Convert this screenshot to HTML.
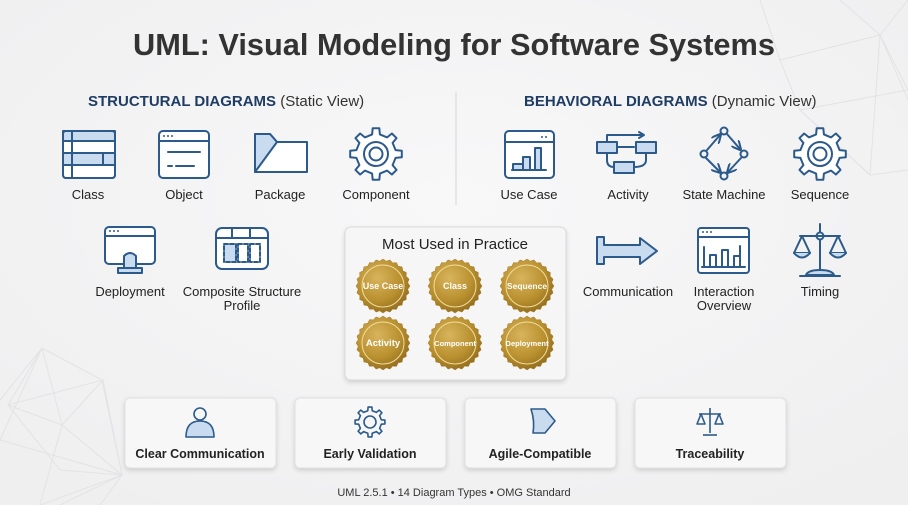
<!DOCTYPE html>
<html><head><meta charset="utf-8"><style>
html,body{margin:0;padding:0;width:908px;height:505px;overflow:hidden;background:#f4f4f5}
svg{display:block}
text{font-family:"Liberation Sans",sans-serif}
</style></head><body>
<svg id="s" width="908" height="505" viewBox="0 0 908 505" xmlns="http://www.w3.org/2000/svg">
<defs>
<radialGradient id="bg" cx="50%" cy="40%" r="70%"><stop offset="0" stop-color="#f8f8f9"/><stop offset="1" stop-color="#efeff0"/></radialGradient>
<radialGradient id="gold" cx="40%" cy="35%" r="70%"><stop offset="0" stop-color="#d8b45c"/><stop offset="0.6" stop-color="#b9902f"/><stop offset="1" stop-color="#8f6a1c"/></radialGradient>
<filter id="sh" x="-10%" y="-10%" width="120%" height="130%"><feDropShadow dx="0" dy="2" stdDeviation="2.5" flood-color="#000" flood-opacity="0.15"/></filter>
<marker id="ar" viewBox="0 0 10 10" refX="8" refY="5" markerWidth="5" markerHeight="5" orient="auto"><path d="M0 0 L10 5 L0 10" fill="none" stroke="#2c5a8a" stroke-width="2"/></marker>
</defs>
<rect width="908" height="505" fill="url(#bg)"/>
<g stroke="#e3e3e5" stroke-width="1" fill="none">
<polyline points="0,400 42,348 102,380 122,475 60,505"/>
<polyline points="42,348 8,405 60,470 122,475 103,380"/>
<polyline points="42,348 62,425 122,475 0,440 42,348"/>
<polyline points="8,405 62,425 103,380 8,405"/>
<polyline points="62,425 40,505 122,475 100,505"/>
<polyline points="760,0 780,60 880,35 908,0"/>
<polyline points="780,60 800,110 908,90 880,35 840,0"/>
<polyline points="800,110 870,175 908,170"/>
<polyline points="880,35 870,175 800,110"/>
<polyline points="880,35 908,100"/>
</g>
<text x="454" y="55" text-anchor="middle" font-size="31" font-weight="bold" fill="#333" textLength="642" lengthAdjust="spacingAndGlyphs">UML: Visual Modeling for Software Systems</text>
<text x="88" y="106" font-size="15" fill="#1f3d63"><tspan font-weight="bold">STRUCTURAL DIAGRAMS</tspan><tspan fill="#333"> (Static View)</tspan></text>
<text x="524" y="106" font-size="15" fill="#1f3d63"><tspan font-weight="bold">BEHAVIORAL DIAGRAMS</tspan><tspan fill="#333"> (Dynamic View)</tspan></text>
<line x1="456" y1="92" x2="456" y2="205" stroke="#d6d6d8" stroke-width="1"/>

<g font-size="13" fill="#222" text-anchor="middle">
<text x="88" y="199">Class</text><text x="184" y="199">Object</text><text x="280" y="199">Package</text><text x="376" y="199">Component</text>
<text x="529" y="199">Use Case</text><text x="628" y="199">Activity</text><text x="724" y="199">State Machine</text><text x="820" y="199">Sequence</text>
<text x="130" y="296">Deployment</text><text x="242" y="296">Composite Structure</text><text x="242" y="310">Profile</text>
<text x="628" y="296">Communication</text><text x="724" y="296">Interaction</text><text x="724" y="310">Overview</text><text x="820" y="296">Timing</text>
</g>

<g stroke="#2c5a8a" stroke-width="2" fill="none" stroke-linejoin="round" stroke-linecap="round">
<rect x="63" y="131" width="52" height="47" rx="3" fill="#fff"/>
<rect x="63" y="131" width="52" height="10" fill="#c9dcef"/>
<rect x="63" y="153" width="52" height="12" fill="#c9dcef"/>
<line x1="63" y1="141" x2="115" y2="141"/><line x1="63" y1="153" x2="115" y2="153"/><line x1="63" y1="165" x2="115" y2="165"/>
<line x1="72" y1="131" x2="72" y2="178"/><line x1="103" y1="153" x2="103" y2="165"/>
<rect x="63" y="131" width="52" height="47" rx="3"/>
<rect x="159" y="131" width="50" height="47" rx="4" fill="#fff"/>
<line x1="159" y1="141" x2="209" y2="141"/>
<line x1="168" y1="152" x2="200" y2="152"/><line x1="168" y1="166" x2="172" y2="166"/><line x1="176" y1="166" x2="194" y2="166"/>
<polygon points="255,134 270,134 277,142 307,142 307,172 255,172" fill="#fff"/>
<polygon points="255,134 270,134 277,142 255,172" fill="#c9dcef"/>
<rect x="505" y="131" width="49" height="47" rx="4" fill="#fff"/>
<line x1="505" y1="142" x2="554" y2="142"/>
<rect x="513" y="164" width="10" height="6" fill="#c9dcef"/><rect x="523" y="157" width="7" height="13" fill="#c9dcef"/><rect x="535" y="148" width="6" height="22" fill="#c9dcef"/>
<line x1="512" y1="170" x2="546" y2="170"/>
<rect x="597" y="142" width="20" height="11" fill="#c9dcef"/>
<rect x="636" y="142" width="20" height="11" fill="#c9dcef"/>
<rect x="614" y="162" width="20" height="11" fill="#c9dcef"/>
<line x1="617" y1="147" x2="634" y2="147"/>
<path d="M607 142 V135 H643"/><path d="M639 132 L644 135 L639 138"/>
<path d="M607 153 V160 Q607 167 614 167"/><path d="M646 153 V160 Q646 167 634 167"/>
<circle cx="724" cy="131" r="3.5"/><circle cx="704" cy="154" r="3.5"/><circle cx="744" cy="154" r="3.5"/><circle cx="724" cy="176" r="3.5"/>
<line x1="707" y1="150" x2="720" y2="135" marker-end="url(#ar)"/><line x1="727" y1="134" x2="740" y2="149" marker-end="url(#ar)"/><line x1="706" y1="158" x2="720" y2="172" marker-end="url(#ar)"/><line x1="741" y1="158" x2="728" y2="172" marker-end="url(#ar)"/>
<rect x="105" y="227" width="50" height="37" rx="4" fill="#fff"/>
<line x1="105" y1="236" x2="155" y2="236"/>
<path d="M124 268 V256 Q130 250 136 256 V268" fill="#c9dcef"/>
<rect x="118" y="268" width="24" height="5" fill="#c9dcef"/>
<rect x="216" y="228" width="52" height="41" rx="6" fill="#fff"/>
<path d="M216 238 H268" /><line x1="232" y1="228" x2="232" y2="238"/><line x1="250" y1="228" x2="250" y2="238"/>
<rect x="224" y="244" width="12" height="18" fill="#c9dcef" stroke-dasharray="4 2"/><rect x="238" y="244" width="10" height="18" stroke-dasharray="4 2"/><rect x="250" y="244" width="10" height="18" stroke-dasharray="4 2"/>
<path d="M597 237 H604 V245 H640 V238 L657 251 L640 264 V257 H604 V264 H597 Z" fill="#c9dcef"/>
<rect x="698" y="228" width="51" height="45" rx="3" fill="#fff"/>
<line x1="698" y1="237" x2="749" y2="237"/>
<path d="M704 247 V267 H710 V255 H716 V267 H722 V250 H728 V267 H734 V256 H740 V246 V267"/>
<line x1="702" y1="267" x2="745" y2="267"/>
<line x1="820" y1="224" x2="820" y2="271"/><circle cx="820" cy="236" r="3.5" fill="#fff"/>
<line x1="800" y1="236" x2="840" y2="236"/>
<path d="M802 236 L794 253 H810 Z"/><path d="M794 253 Q802 262 810 253" fill="#c9dcef"/>
<path d="M838 236 L830 253 H846 Z"/><path d="M830 253 Q838 262 846 253" fill="#c9dcef"/>
<path d="M806 275 Q808 270 820 270 Q832 270 834 275 Z" fill="#c9dcef"/>
<line x1="800" y1="276" x2="840" y2="276"/>
</g>
<g fill="#2c5a8a"><circle cx="164" cy="136" r="1"/><circle cx="168" cy="136" r="1"/><circle cx="172" cy="136" r="1"/>
<circle cx="110" cy="231" r="1"/><circle cx="114" cy="231" r="1"/><circle cx="118" cy="231" r="1"/>
<circle cx="703" cy="232" r="1"/><circle cx="707" cy="232" r="1"/><circle cx="711" cy="232" r="1"/>
<circle cx="542" cy="137" r="1"/><circle cx="546" cy="137" r="1"/></g>

<g id="gears"></g>

<rect x="345" y="227" width="221" height="153" rx="6" fill="#f6f6f7" stroke="#dadadc" filter="url(#sh)"/>
<text x="455" y="249" text-anchor="middle" font-size="15" fill="#222">Most Used in Practice</text>
<g id="badges"></g>

<g filter="url(#sh)" fill="#f7f7f8" stroke="#e0e0e2">
<rect x="125" y="398" width="151" height="70" rx="5"/><rect x="295" y="398" width="151" height="70" rx="5"/>
<rect x="465" y="398" width="151" height="70" rx="5"/><rect x="635" y="398" width="151" height="70" rx="5"/>
</g>
<g font-size="12.5" font-weight="bold" fill="#222" text-anchor="middle">
<text x="200" y="458">Clear Communication</text><text x="370" y="458">Early Validation</text>
<text x="540" y="458">Agile-Compatible</text><text x="710" y="458">Traceability</text>
</g>
<g id="gears2"></g>
<g stroke="#2c5a8a" stroke-width="1.6" fill="none" stroke-linejoin="round">
<circle cx="200" cy="414" r="6"/><path d="M186 437 Q186 421 200 421 Q214 421 214 437 Z" fill="#c9dcef"/>
<path d="M531 409 H545 L555 421 L545 433 H533 Q535 421 531 409 Z" fill="#c9dcef"/>
<line x1="710" y1="408" x2="710" y2="433"/><line x1="699" y1="414" x2="721" y2="414"/>
<path d="M701 414 L697 424 H705 Z"/><path d="M719 414 L715 424 H723 Z"/><line x1="703" y1="435" x2="717" y2="435"/>
</g>
<text x="454" y="496" text-anchor="middle" font-size="11" fill="#333">UML 2.5.1 • 14 Diagram Types • OMG Standard</text>
</svg>
<script>
var NS="http://www.w3.org/2000/svg";
function gearPath(cx,cy,R,r,n){var d="",k=0;for(var i=0;i<n;i++){var a=i*2*Math.PI/n,w=Math.PI/n;
var pts=[[a-w*0.5,r],[a-w*0.32,R],[a+w*0.32,R],[a+w*0.5,r],[a+w*1.5,r]];
for(var j=0;j<pts.length;j++){var x=cx+pts[j][1]*Math.cos(pts[j][0]),y=cy+pts[j][1]*Math.sin(pts[j][0]);d+=(k++?"L":"M")+x.toFixed(1)+" "+y.toFixed(1);}}
return d+"Z";}
function gear(g,cx,cy,R,r,c1,c2,sw,fill){var p=document.createElementNS(NS,"path");p.setAttribute("d",gearPath(cx,cy,R,r,8));
p.setAttribute("fill",fill);p.setAttribute("stroke","#2c5a8a");p.setAttribute("stroke-width",sw);p.setAttribute("stroke-linejoin","round");g.appendChild(p);
[c1,c2].forEach(function(rr){if(!rr)return;var c=document.createElementNS(NS,"circle");c.setAttribute("cx",cx);c.setAttribute("cy",cy);c.setAttribute("r",rr);c.setAttribute("fill","none");c.setAttribute("stroke","#2c5a8a");c.setAttribute("stroke-width",sw);g.appendChild(c);});}
var g=document.getElementById("gears");
gear(g,376,154,26,20,12,6.5,2,"#fff");gear(g,820,154,26,20,12,6.5,2,"#fff");
gear(document.getElementById("gears2"),370,422,15,11.5,6,0,1.6,"none");
var b=document.getElementById("badges");
var L=[["Use Case",383,286,9],["Class",455,286,9],["Sequence",527,286,8.5],["Activity",383,343,9.5],["Component",455,343,7.5],["Deployment",527,343,7.5]];
L.forEach(function(t){var cx=t[1],cy=t[2],d="";for(var i=0;i<=48;i++){var a=i*2*Math.PI/48,rr=(i%2?25:27);d+=(i?"L":"M")+(cx+rr*Math.cos(a)).toFixed(1)+" "+(cy+rr*Math.sin(a)).toFixed(1);}
var p=document.createElementNS(NS,"path");p.setAttribute("d",d+"Z");p.setAttribute("fill","url(#gold)");p.setAttribute("stroke","#a37d28");p.setAttribute("stroke-width","0.5");b.appendChild(p);
var c=document.createElementNS(NS,"circle");c.setAttribute("cx",cx);c.setAttribute("cy",cy);c.setAttribute("r",21);c.setAttribute("fill","none");c.setAttribute("stroke","#f1dc9c");c.setAttribute("stroke-width","1");b.appendChild(c);
var tx=document.createElementNS(NS,"text");tx.setAttribute("x",cx);tx.setAttribute("y",cy+3);tx.setAttribute("text-anchor","middle");tx.setAttribute("font-size",t[3]);tx.setAttribute("font-weight","bold");tx.setAttribute("fill","#fff");tx.textContent=t[0];b.appendChild(tx);});
</script>
</body></html>
